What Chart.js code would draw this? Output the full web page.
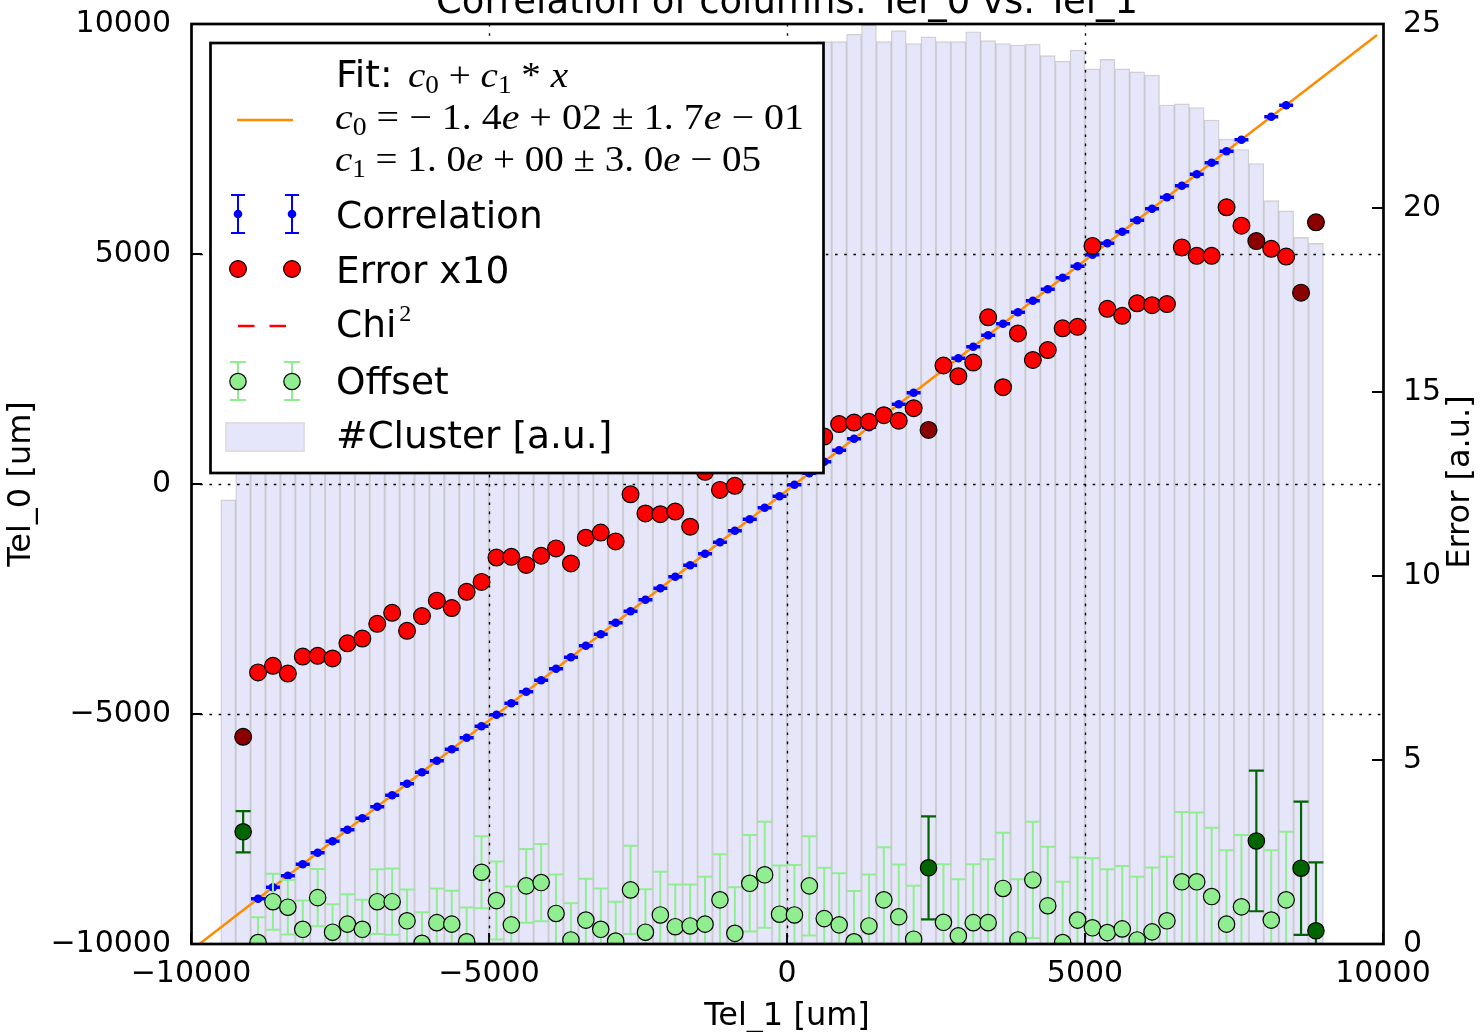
<!DOCTYPE html>
<html>
<head>
<meta charset="utf-8">
<title>Correlation of columns: Tel_0 vs. Tel_1</title>
<script src="https://cdn.jsdelivr.net/npm/chart.js@4.4.1/dist/chart.umd.min.js"></script>
<style>
  html, body { margin: 0; padding: 0; background: #fff; }
  #wrap { width: 1481px; height: 1032px; }
</style>
</head>
<body>
<div id="wrap"><canvas id="js-chart-corr" width="1481" height="1032"></canvas></div>
<script>
// Binning of Tel_1 [um]
const binStart = -9500;
const binWidth = 250;

// #Cluster [a.u.] per bin (right axis)
const clusterCounts = [
  12.07,
  21.9, 22.6, 23.0, 23.3, 23.6, 23.5, 23.8, 23.9, 23.7, 24.0,
  23.9, 24.1, 23.8, 24.2, 24.0, 24.3, 24.1, 23.9, 24.3, 24.2,
  24.0, 24.3, 24.4, 24.1, 24.2, 24.4, 24.0, 24.3, 24.4, 24.2,
  24.1, 24.4, 24.3, 24.0, 24.4, 24.2, 24.3, 24.1, 24.4,
  24.52,
  24.52, 24.72, 24.97, 24.52, 24.82, 24.47, 24.65, 24.52, 24.52, 24.79,
  24.55, 24.47, 24.43, 24.45, 24.14, 23.99, 24.29, 23.78, 24.04, 23.78,
  23.70, 23.61, 22.80, 22.83, 22.73, 22.39, 21.87, 21.59, 21.21, 20.20,
  19.92, 19.20, 19.04
];

// Fit results per bin, starting with the second bin
const corrMean = [
  null, -9015, -8765, -8515, -8265, -8015, -7765, -7515, -7265, -7015,
  -6765, -6515, -6265, -6015, -5765, -5515, -5265, -5015, -4765, -4515,
  -4265, -4015, -3765, -3515, -3265, -3015, -2765, -2515, -2265, -2015,
  -1765, -1515, -1265, -1015, -765, -515, -265, -15, 235, 485,
  735, 985, 1235, 1485, 1735, 1985, null, 2485, 2735, 2985,
  3235, 3485, 3735, 3985, 4235, 4485, 4735, 4985, 5235, 5485,
  5735, 5985, 6235, 6485, 6735, 6985, 7235, 7485, null, 7985,
  8235, null, null
];
const corrErr = 15;

const errorX10 = [
  5.63, 7.38, 7.56, 7.35, 7.81, 7.83, 7.76, 8.17, 8.30, 8.70,
  9.00, 8.51, 8.91, 9.33, 9.13, 9.57, 9.84, 10.50, 10.52, 10.30,
  10.55, 10.75, 10.34, 11.04, 11.18, 10.94, 12.22, 11.70, 11.68, 11.75,
  11.34, 12.83, 12.34, 12.45, 13.2, 13.3, 13.4, 13.5, 13.6, 13.79,
  14.13, 14.17, 14.19, 14.37, 14.22, 14.56, 13.97, 15.72, 15.43, 15.80,
  17.03, 15.13, 16.59, 15.87, 16.14, 16.73, 16.77, 18.97, 17.26, 17.07,
  17.41, 17.36, 17.39, 18.93, 18.70, 18.70, 20.02, 19.52, 19.10, 18.89,
  18.68, 17.70, 19.61
];

const offsetVal = [
  3.05, 0.04, 1.15, 1.00, 0.40, 1.26, 0.32, 0.54, 0.40, 1.15,
  1.15, 0.63, 0.02, 0.58, 0.54, 0.06, 1.95, 1.18, 0.52, 1.58,
  1.67, 0.83, 0.11, 0.65, 0.40, 0.08, 1.47, 0.32, 0.79, 0.47,
  0.49, 0.54, 1.20, 0.29, 1.65, 1.88, 0.81, 0.79, 1.58, 0.69,
  0.52, 0.06, 0.49, 1.20, 0.74, 0.13, 2.07, 0.59, 0.22, 0.58,
  0.58, 1.51, 0.11, 1.74, 1.04, 0.04, 0.65, 0.44, 0.31, 0.41,
  0.11, 0.33, 0.63, 1.69, 1.69, 1.29, 0.54, 1.01, 2.80, 0.65,
  1.20, 2.06, 0.36
];
const offsetErr = [
  0.56, 0.69, 0.76, 0.74, 0.78, 0.78, 0.76, 0.81, 0.80, 0.88,
  0.90, 0.85, 0.84, 0.93, 0.91, 0.93, 0.98, 1.06, 1.04, 1.00,
  1.05, 1.06, 1.00, 1.12, 1.11, 1.07, 1.20, 1.17, 1.17, 1.15,
  1.13, 1.29, 1.24, 1.25, 1.31, 1.44, 1.32, 1.36, 1.35, 1.38,
  1.40, 1.38, 1.40, 1.43, 1.42, 1.45, 1.40, 1.58, 1.54, 1.59,
  1.72, 1.51, 1.65, 1.58, 1.60, 1.65, 1.70, 1.89, 1.72, 1.71,
  1.72, 1.75, 1.74, 1.90, 1.88, 1.87, 2.01, 1.95, 1.91, 1.90,
  1.85, 1.81, 1.86
];

// bins where the fit failed (drawn in dark colours)
const flagged = [0, 46, 68, 71, 72];

// Fit: c0 + c1 * x
const fitC0 = -140;
const fitC1 = 1.0;
const fitRange = [-9900, 9900];

const xTicks = [-10000, -5000, 0, 5000, 10000];
const yTicks = [-10000, -5000, 0, 5000, 10000];
const y2Ticks = [0, 5, 10, 15, 20, 25];

// ---------------------------------------------------------------------

const FONT = '"DejaVu Sans"';
const MATH = '"Liberation Serif"';
const fmt = v => (v < 0 ? '\u2212' + Math.abs(v) : String(v));

const binCenter = j => binStart + binWidth * (j + 0.5);
const pointX = k => binCenter(k + 1);
const isFlagged = k => flagged.includes(k);

function drawErrorBars(chart, xs, ys, errs, colors, widths, scaleId, cap) {
  const ctx = chart.ctx, a = chart.chartArea;
  const xS = chart.scales.x, yS = chart.scales[scaleId];
  ctx.save();
  ctx.beginPath();
  ctx.rect(a.left, a.top, a.right - a.left, a.bottom - a.top);
  ctx.clip();
  for (let i = 0; i < xs.length; i++) {
    if (ys[i] === null) continue;
    const px = xS.getPixelForValue(xs[i]);
    const top = yS.getPixelForValue(ys[i] + errs[i]);
    const bot = yS.getPixelForValue(ys[i] - errs[i]);
    ctx.strokeStyle = colors[i];
    ctx.lineWidth = widths[i];
    ctx.beginPath();
    ctx.moveTo(px, top); ctx.lineTo(px, bot);
    ctx.moveTo(px - cap, top); ctx.lineTo(px + cap, top);
    ctx.moveTo(px - cap, bot); ctx.lineTo(px + cap, bot);
    ctx.stroke();
  }
  ctx.restore();
}

function drawMath(ctx, tokens, x, y, width, size) {
  const fontFor = s => s === 'i' ? `italic ${size}px ${MATH}` :
    s === 's' ? `${Math.round(size * 0.7)}px ${MATH}` : `${size}px ${MATH}`;
  let total = 0;
  tokens.forEach(([t, s]) => { ctx.font = fontFor(s); total += ctx.measureText(t).width; });
  ctx.save();
  ctx.translate(x, y);
  ctx.scale(width / total, 1);
  let cx = 0;
  tokens.forEach(([t, s]) => {
    ctx.font = fontFor(s);
    ctx.fillText(t, cx, s === 's' ? size * 0.18 : 0);
    cx += ctx.measureText(t).width;
  });
  ctx.restore();
}

function circle(ctx, x, y, r, fill) {
  ctx.beginPath();
  ctx.arc(x, y, r, 0, Math.PI * 2);
  ctx.fillStyle = fill;
  ctx.fill();
  ctx.lineWidth = 1.2;
  ctx.strokeStyle = '#000';
  ctx.stroke();
}

function drawLegend(ctx) {
  ctx.save();
  ctx.fillStyle = '#fff';
  ctx.fillRect(210.5, 43, 613, 430);
  ctx.lineWidth = 2.7;
  ctx.strokeStyle = '#000';
  ctx.strokeRect(210.5, 43, 613, 430);

  ctx.fillStyle = '#000';
  ctx.textAlign = 'left';
  ctx.textBaseline = 'alphabetic';
  ctx.font = `37.5px ${FONT}`;
  ctx.fillText('Fit:', 336, 87);
  drawMath(ctx, [['c', 'i'], ['0', 's'], [' + ', 'r'], ['c', 'i'], ['1', 's'], [' * ', 'r'], ['x', 'i']],
    408, 87, 160, 36);
  drawMath(ctx, [['c', 'i'], ['0', 's'], [' = ', 'r'], ['\u2212', 'r'], [' 1. 4', 'r'], ['e', 'i'],
    [' + ', 'r'], ['02', 'r'], [' \u00b1 ', 'r'], ['1. 7', 'r'], ['e', 'i'], [' \u2212 ', 'r'], ['01', 'r']],
    335, 129, 469, 36);
  drawMath(ctx, [['c', 'i'], ['1', 's'], [' = ', 'r'], ['1. 0', 'r'], ['e', 'i'], [' + ', 'r'], ['00', 'r'],
    [' \u00b1 ', 'r'], ['3. 0', 'r'], ['e', 'i'], [' \u2212 ', 'r'], ['05', 'r']],
    335, 170.5, 426, 36);

  // fit line sample
  ctx.strokeStyle = '#ff8c00';
  ctx.lineWidth = 2.5;
  ctx.beginPath(); ctx.moveTo(237, 120); ctx.lineTo(293, 120); ctx.stroke();

  const mx = [238, 292];
  // Correlation
  mx.forEach(x => {
    ctx.strokeStyle = '#0000ff';
    ctx.lineWidth = 2;
    ctx.beginPath();
    ctx.moveTo(x, 195); ctx.lineTo(x, 233);
    ctx.moveTo(x - 7, 195); ctx.lineTo(x + 7, 195);
    ctx.moveTo(x - 7, 233); ctx.lineTo(x + 7, 233);
    ctx.stroke();
    ctx.beginPath(); ctx.arc(x, 214, 4.3, 0, Math.PI * 2); ctx.fillStyle = '#0000ff'; ctx.fill();
  });
  // Error x10
  mx.forEach(x => circle(ctx, x, 269, 8.4, '#ff0000'));
  // Chi2
  ctx.strokeStyle = '#ff0000';
  ctx.lineWidth = 2.5;
  ctx.setLineDash([16.5, 15]);
  ctx.beginPath(); ctx.moveTo(238, 326); ctx.lineTo(287, 326); ctx.stroke();
  ctx.setLineDash([]);
  // Offset
  mx.forEach(x => {
    ctx.strokeStyle = '#90ee90';
    ctx.lineWidth = 2;
    ctx.beginPath();
    ctx.moveTo(x, 362); ctx.lineTo(x, 400);
    ctx.moveTo(x - 8, 362); ctx.lineTo(x + 8, 362);
    ctx.moveTo(x - 8, 400); ctx.lineTo(x + 8, 400);
    ctx.stroke();
    circle(ctx, x, 381.5, 8.2, '#90ee90');
  });
  // #Cluster patch
  ctx.fillStyle = '#e6e6fa';
  ctx.fillRect(226, 423, 78, 28);
  ctx.strokeStyle = '#dedee4';
  ctx.lineWidth = 2;
  ctx.strokeRect(226, 423, 78, 28);

  ctx.fillStyle = '#000';
  ctx.font = `37.5px ${FONT}`;
  ctx.fillText('Correlation', 336, 228);
  ctx.fillText('Error x10', 336, 283);
  ctx.fillText('Chi', 336, 337);
  const chiW = ctx.measureText('Chi').width;
  ctx.font = `24px ${MATH}`;
  ctx.fillText('2', 336 + chiW + 3, 321);
  ctx.font = `37.5px ${FONT}`;
  ctx.fillText('Offset', 336, 394);
  ctx.fillText('#Cluster [a.u.]', 336, 448);
  ctx.restore();
}

const corrPlugin = {
  id: 'corrPlugin',
  beforeDatasetDraw(chart, args) {
    const label = chart.data.datasets[args.index].label;
    const xs = corrMean.map((v, k) => pointX(k));
    if (label === 'Correlation') {
      drawErrorBars(chart, xs, corrMean, corrMean.map(() => corrErr),
        corrMean.map(() => '#0000ff'), corrMean.map(() => 2), 'y', 7);
    }
    if (label === 'Offset') {
      drawErrorBars(chart, xs, offsetVal, offsetErr,
        offsetVal.map((v, k) => isFlagged(k) ? '#006400' : '#90ee90'),
        offsetVal.map((v, k) => isFlagged(k) ? 2.2 : 2), 'y2', 7.5);
    }
  },
  afterDatasetDraw(chart, args) {
    // dotted grid sits on top of the histogram
    if (chart.data.datasets[args.index].label !== '#Cluster [a.u.]') return;
    const ctx = chart.ctx, a = chart.chartArea;
    const xS = chart.scales.x, yS = chart.scales.y;
    ctx.save();
    ctx.strokeStyle = '#000';
    ctx.lineWidth = 1.4;
    ctx.setLineDash([2.6, 6.6]);
    xTicks.slice(1, -1).forEach(v => {
      const px = Math.round(xS.getPixelForValue(v)) + 0.5;
      ctx.beginPath(); ctx.moveTo(px, a.top); ctx.lineTo(px, a.bottom); ctx.stroke();
    });
    yTicks.slice(1, -1).forEach(v => {
      const py = Math.round(yS.getPixelForValue(v)) + 0.5;
      ctx.beginPath(); ctx.moveTo(a.left, py); ctx.lineTo(a.right, py); ctx.stroke();
    });
    ctx.restore();
  },
  afterDraw(chart) {
    const ctx = chart.ctx, a = chart.chartArea;
    const xS = chart.scales.x, yS = chart.scales.y, y2S = chart.scales.y2;
    ctx.save();
    // inward ticks
    ctx.strokeStyle = '#000';
    ctx.lineWidth = 1.8;
    ctx.beginPath();
    xTicks.forEach(v => { const p = xS.getPixelForValue(v); ctx.moveTo(p, a.bottom); ctx.lineTo(p, a.bottom - 11); });
    yTicks.forEach(v => { const p = yS.getPixelForValue(v); ctx.moveTo(a.left, p); ctx.lineTo(a.left + 11, p); });
    y2Ticks.forEach(v => { const p = y2S.getPixelForValue(v); ctx.moveTo(a.right, p); ctx.lineTo(a.right - 11, p); });
    ctx.stroke();
    // frame
    ctx.lineWidth = 2.7;
    ctx.strokeRect(a.left + 0.5, a.top, a.right - a.left, a.bottom - a.top);
    // title
    ctx.fillStyle = '#000';
    ctx.font = `37px ${FONT}`;
    ctx.textAlign = 'center';
    ctx.textBaseline = 'alphabetic';
    ctx.fillText('Correlation of columns: Tel_0 vs. Tel_1', (a.left + a.right) / 2, 13);
    // right axis label, reading upwards
    ctx.save();
    ctx.translate(1461, 482);
    ctx.rotate(-Math.PI / 2);
    ctx.font = `32px ${FONT}`;
    ctx.textBaseline = 'middle';
    ctx.fillText('Error [a.u.]', 0, 0);
    ctx.restore();
    ctx.restore();
    drawLegend(ctx);
  }
};

const chartCon = document.getElementById('js-chart-corr');

Chart.defaults.font.family = FONT;
Chart.defaults.color = '#000';

const tickFont = { family: FONT, size: 30 };

// fixed box sizes so the plot area matches the original figure
const fixVertical = w => s => { s.width = w; s.paddingTop = 0; s.paddingBottom = 0; };
const fixHorizontal = h => s => { s.height = h; s.paddingLeft = 0; s.paddingRight = 0; };

new Chart(chartCon, {
  type: 'scatter',
  data: {
    datasets: [
      {
        type: 'bar',
        label: '#Cluster [a.u.]',
        data: clusterCounts.map((v, j) => ({ x: binCenter(j), y: v })),
        yAxisID: 'y2',
        backgroundColor: '#e6e6fa',
        borderColor: 'rgba(175,175,185,0.6)',
        borderWidth: 1.4,
        borderSkipped: false,
        barPercentage: 1,
        categoryPercentage: 1,
        clip: 0,
        order: 10
      },
      {
        type: 'line',
        label: 'Fit',
        data: fitRange.map(x => ({ x: x, y: fitC0 + fitC1 * x })),
        yAxisID: 'y',
        borderColor: '#ff8c00',
        borderWidth: 2.5,
        pointRadius: 0,
        tension: 0,
        clip: 0,
        order: 6
      },
      {
        type: 'scatter',
        label: 'Correlation',
        data: corrMean.map((v, k) => ({ x: pointX(k), y: v })).filter(p => p.y !== null),
        yAxisID: 'y',
        pointRadius: 4.3,
        pointBackgroundColor: '#0000ff',
        pointBorderWidth: 0,
        clip: 0,
        order: 5
      },
      {
        type: 'scatter',
        label: 'Offset',
        data: offsetVal.map((v, k) => ({ x: pointX(k), y: v })),
        yAxisID: 'y2',
        pointRadius: 8.2,
        pointBackgroundColor: offsetVal.map((v, k) => isFlagged(k) ? '#006400' : '#90ee90'),
        pointBorderColor: '#000',
        pointBorderWidth: 1.2,
        clip: 0,
        order: 4
      },
      {
        type: 'scatter',
        label: 'Error x10',
        data: errorX10.map((v, k) => ({ x: pointX(k), y: v })),
        yAxisID: 'y2',
        pointRadius: 8.4,
        pointBackgroundColor: errorX10.map((v, k) => isFlagged(k) ? '#8b0000' : '#ff0000'),
        pointBorderColor: '#000',
        pointBorderWidth: 1.2,
        clip: 0,
        order: 3
      },
      {
        type: 'scatter',
        label: 'Chi\u00b2',
        data: [],
        yAxisID: 'y2',
        order: 2
      }
    ]
  },
  options: {
    responsive: false,
    animation: false,
    devicePixelRatio: 1,
    events: [],
    layout: { padding: { top: 24, left: 0, right: 0, bottom: 0 } },
    plugins: {
      legend: { display: false },
      tooltip: { enabled: false }
    },
    scales: {
      x: {
        type: 'linear',
        min: -10000, max: 10000,
        offset: false,
        afterFit: fixHorizontal(88),
        afterBuildTicks: s => { s.ticks = xTicks.map(v => ({ value: v })); },
        grid: { display: false },
        border: { display: false },
        ticks: { font: tickFont, padding: 4, maxRotation: 0, autoSkip: false, callback: v => fmt(v) },
        title: { display: true, text: 'Tel_1 [um]', font: { family: FONT, size: 32 }, padding: { top: 0, bottom: -4 } }
      },
      y: {
        type: 'linear',
        position: 'left',
        min: -10000, max: 10000,
        afterFit: fixVertical(191),
        afterBuildTicks: s => { s.ticks = yTicks.map(v => ({ value: v })); },
        grid: { display: false },
        border: { display: false },
        ticks: { font: tickFont, padding: 12, callback: v => fmt(v) },
        title: { display: true, text: 'Tel_0 [um]', font: { family: FONT, size: 32 }, padding: { top: 2, bottom: 0 } }
      },
      y2: {
        type: 'linear',
        position: 'right',
        min: 0, max: 25,
        afterFit: fixVertical(98),
        afterBuildTicks: s => { s.ticks = y2Ticks.map(v => ({ value: v })); },
        grid: { display: false },
        border: { display: false },
        ticks: { font: tickFont, padding: 12 }
      }
    }
  },
  plugins: [corrPlugin]
});
</script>
</body>
</html>
